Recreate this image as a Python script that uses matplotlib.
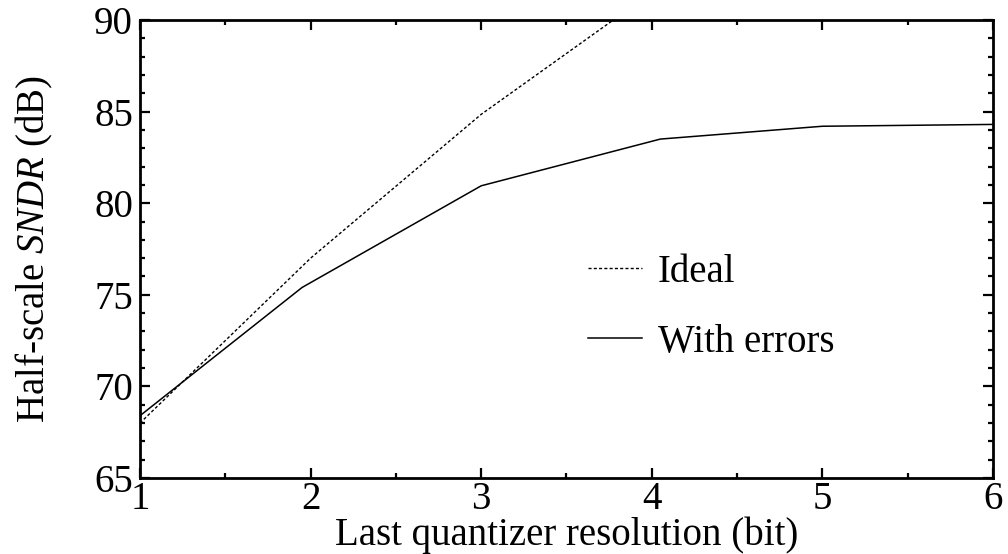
import numpy as np
import matplotlib
matplotlib.use("Agg")
import matplotlib.pyplot as plt
from matplotlib.ticker import MultipleLocator

plt.rcParams['font.family'] = ['Liberation Serif', 'DejaVu Serif']
plt.rcParams['mathtext.fontset'] = 'custom'
plt.rcParams['mathtext.rm'] = 'Liberation Serif'
plt.rcParams['mathtext.it'] = 'Liberation Serif:italic'

# data
ideal_bits = [1, 2, 3, 4]
ideal_sndr = [68.0, 77.0, 84.85, 91.5]
err_bits = [1, 1.95, 3, 4.05, 5, 6]
err_sndr = [68.4, 75.4, 80.95, 83.5, 84.2, 84.3]

fig = plt.figure(figsize=(10.08, 5.54), dpi=100)
ax = fig.add_axes([0.1389, 0.1372, 0.8462, 0.8267])

ax.plot(ideal_bits, ideal_sndr, color='black', lw=1.0, ls=(0, (2.2, 1.6)), label='Ideal')
ax.plot(err_bits, err_sndr, color='black', lw=1.1, label='With errors')

ax.set_xlim(1, 6)
ax.set_ylim(65, 90)
ax.xaxis.set_major_locator(MultipleLocator(1))
ax.xaxis.set_minor_locator(MultipleLocator(0.5))
ax.yaxis.set_major_locator(MultipleLocator(5))
ax.yaxis.set_minor_locator(MultipleLocator(1))
ax.tick_params(which='both', direction='in', top=True, right=True,
               labelsize=28, width=1.6)
ax.tick_params(which='major', length=7, pad=5)
ax.tick_params(axis='x', which='major', pad=2)
ax.tick_params(which='minor', length=3.5)
for s in ax.spines.values():
    s.set_linewidth(2)

ax.set_xlabel('Last quantizer resolution (bit)', fontsize=28, labelpad=-1)
ax.set_ylabel('Half-scale $\\mathit{SNDR}$ (dB)', fontsize=28, labelpad=28)

ax.legend(loc='upper left', bbox_to_anchor=(0.525, 0.49), frameon=False,
          fontsize=28, handlelength=1.4, handletextpad=0.4, labelspacing=0.85,
          borderpad=0, borderaxespad=0)

fig.savefig('out.png', dpi=100)
